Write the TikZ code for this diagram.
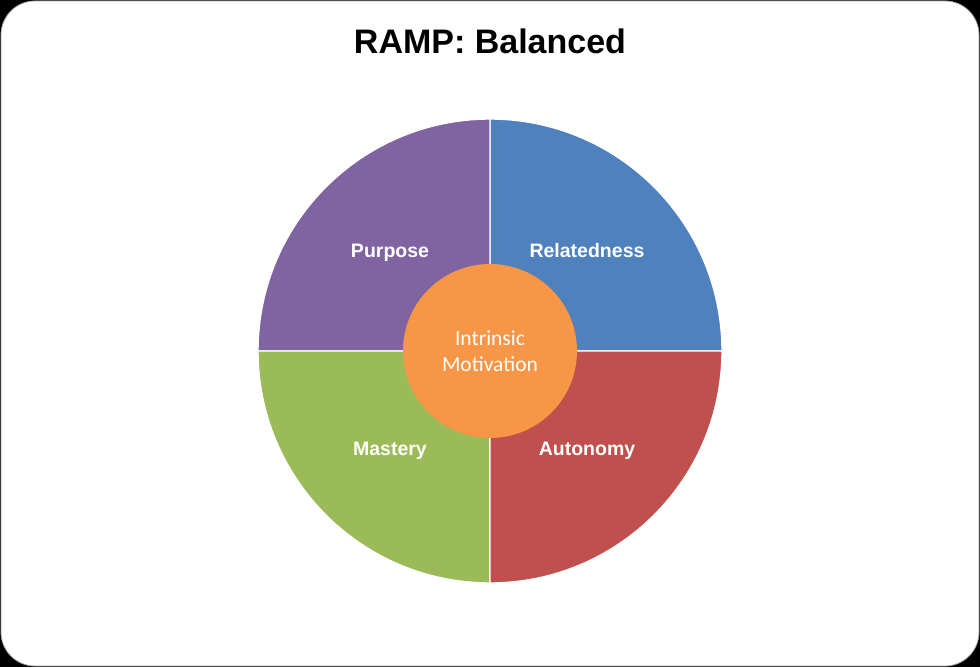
\documentclass[tikz,border=0pt]{standalone}
\usepackage{fontspec}
\setmainfont{Liberation Sans}
\newfontfamily\calibrifont{Carlito}
\usepackage{xcolor}
\usepackage{tikz}
\usetikzlibrary{positioning,calc}
\definecolor{purposecol}{HTML}{8064A2}
\definecolor{relatedcol}{HTML}{4F81BD}
\definecolor{autonomycol}{HTML}{C0504D}
\definecolor{masterycol}{HTML}{9BBB59}
\definecolor{corecol}{HTML}{F79646}

\begin{document}
\begin{tikzpicture}[x=1pt, y=1pt,
    quadlabel/.style={text=white, text height=14pt, text depth=4pt, inner sep=0pt,
                      font=\fontsize{19.5}{22}\selectfont\bfseries},
    wedge/.style={draw=white, line width=1.4pt}]
  % Frame
  \fill[black] (0,0) rectangle (980,667);
  \draw[fill=white, draw=gray!70, line width=0.8pt, rounded corners=34pt] (1,1) rectangle (979,666);
  \useasboundingbox (0,0) rectangle (980,667);

  % Title
  \node[font=\fontsize{34}{38}\selectfont\bfseries] (title) at (490, 626) {RAMP: Balanced};

  % Quadrants
  \coordinate (ctr) at (490, 316);
  \foreach \a/\col in {0/relatedcol, 90/purposecol, 180/masterycol, 270/autonomycol} {
    \draw[wedge, fill=\col] (ctr) -- ++(\a:232pt) arc (\a:\a+90:232pt) -- cycle;
  }

  \node[quadlabel] (purpose) at (390, 414) {Purpose};
  \node[quadlabel] (related) at (587, 414) {Relatedness};
  \node[quadlabel] (mastery) at (390, 216) {Mastery};
  \node[quadlabel] (autonomy) at (587, 216) {Autonomy};

  % Centre
  \node[circle, fill=corecol, minimum size=174pt, inner sep=0pt, text=white,
        align=center, font=\calibrifont\fontsize{21.5}{26}\selectfont] (core) at (ctr)
        {Intrinsic\\Motivation};
\end{tikzpicture}
\end{document}
